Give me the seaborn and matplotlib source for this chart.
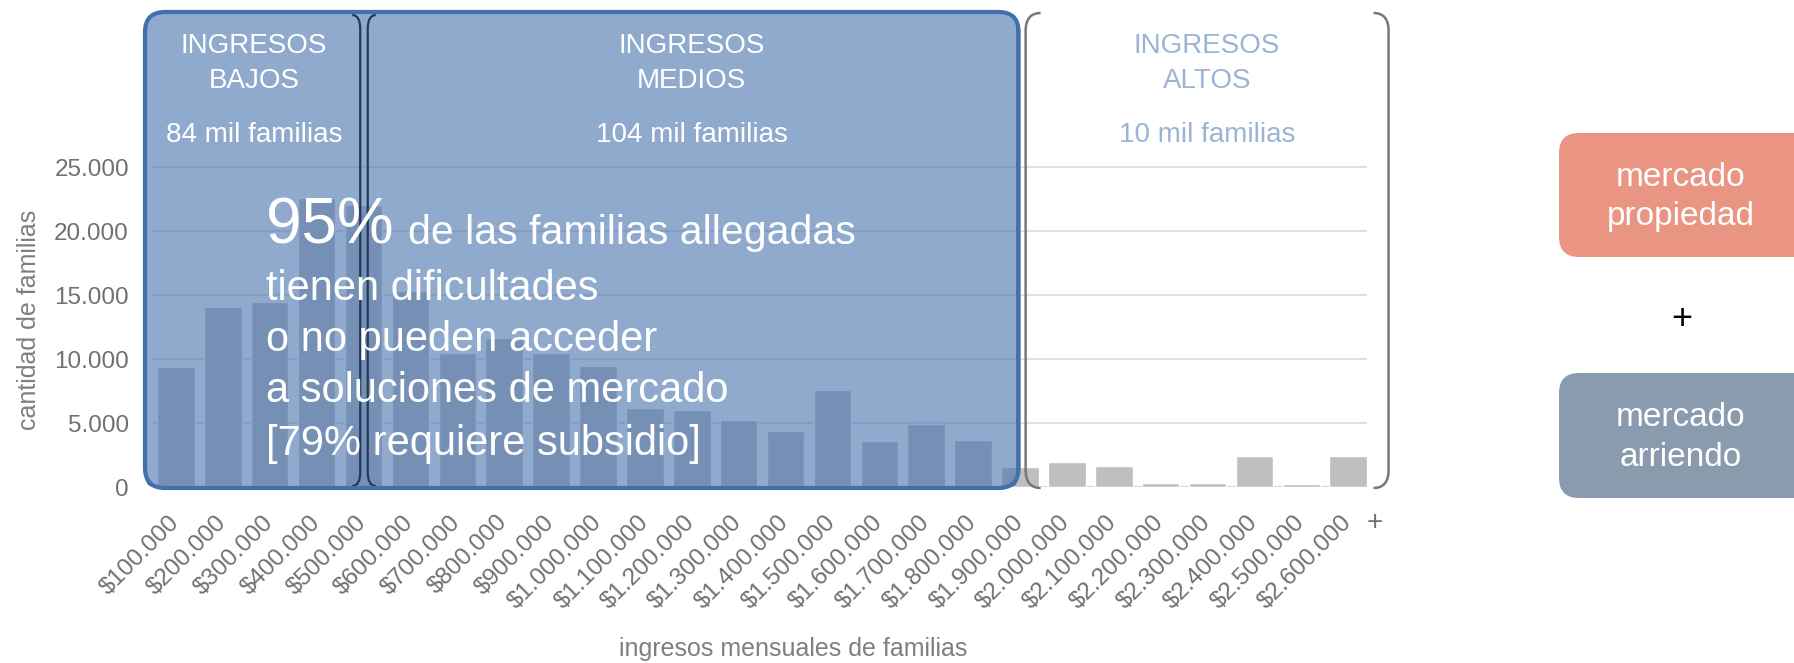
import matplotlib

matplotlib.use('Agg')
import matplotlib.pyplot as plt
import seaborn as sns
from matplotlib.patches import FancyBboxPatch, PathPatch
from matplotlib.path import Path

# datos
ingresos = ['$100.000', '$200.000', '$300.000', '$400.000', '$500.000', '$600.000',
            '$700.000', '$800.000', '$900.000', '$1.000.000', '$1.100.000', '$1.200.000',
            '$1.300.000', '$1.400.000', '$1.500.000', '$1.600.000', '$1.700.000',
            '$1.800.000', '$1.900.000', '$2.000.000', '$2.100.000', '$2.200.000',
            '$2.300.000', '$2.400.000', '$2.500.000', '$2.600.000']
familias = [9370, 14030, 14420, 22600, 22050, 15330, 10440, 11610, 10440, 9480, 6150,
            6010, 5260, 4380, 7580, 3600, 4900, 3670, 1540, 1970, 1630, 280, 350, 2430,
            230, 2400]
y_ticks = [0, 5000, 10000, 15000, 20000, 25000]
y_tick_labels = ['0', '5.000', '10.000', '15.000', '20.000', '25.000']

grupos = ['INGRESOS\nBAJOS', 'INGRESOS\nMEDIOS', 'INGRESOS\nALTOS']
grupo_familias = ['84 mil familias', '104 mil familias', '10 mil familias']
destacado = '95%'
mensaje = ['de las familias allegadas', 'tienen dificultades', 'o no pueden acceder',
           'a soluciones de mercado', '[79% requiere subsidio]']
mercados = ['mercado\npropiedad', 'mercado\narriendo']

W, H = 1794, 663
FONT = ['Liberation Sans', 'DejaVu Sans']
GRIS = '#707070'

sns.set_theme(style='white')
plt.rcParams['font.family'] = FONT

fig = plt.figure(figsize=(W / 100, H / 100), dpi=100)
ax = fig.add_axes([152.5 / W, 176 / H, 1214.5 / W, 473.6 / H])

sns.barplot(x=ingresos, y=familias, color='#bfbfbf', saturation=1, width=0.8,
            ax=ax, zorder=2)

ax.set_xlim(-0.5, 25.4)
ax.set_ylim(0, 37000)
ax.set_yticks(y_ticks, labels=y_tick_labels)
ax.set_xticks(range(len(ingresos)), labels=ingresos, rotation=45, ha='right',
              va='center', rotation_mode='anchor')
ax.yaxis.grid(True, color='#d9d9d9', lw=1.2)
ax.set_axisbelow(True)
ax.axhline(0, color='#d9d9d9', lw=1.6, zorder=1)
sns.despine(ax=ax, left=True, bottom=True)
ax.tick_params(axis='y', length=0, pad=17, labelsize=17.5, labelcolor=GRIS)
ax.tick_params(axis='x', length=0, pad=23, labelsize=17.5, labelcolor=GRIS)
ax.set_xlabel('')
ax.set_ylabel('')

# unidades de datos por pixel
xu = 25.9 / 1214.5
yu = 37000 / 473.6


def py(p):
    # pixel vertical (desde arriba) -> valor en eje y
    return (487 - p) * yu


def fig_xy(x, y):
    return x / W, 1 - y / H


# caja azul (ingresos bajos + medios)
caja = dict(boxstyle=f'round,pad=0,rounding_size={20 * xu}', mutation_aspect=yu / xu,
            clip_on=False)
x0, x1, y0, y1 = -0.66, 17.97, py(488), py(12)
ax.add_patch(FancyBboxPatch((x0, y0), x1 - x0, y1 - y0, facecolor='#4472ad',
                            alpha=0.6, edgecolor='none', zorder=3, **caja))
ax.add_patch(FancyBboxPatch((x0, y0), x1 - x0, y1 - y0, facecolor='none',
                            edgecolor='#4170ac', lw=3, zorder=4.5, **caja))


def corchete(x, ya, yb, lado, hw, hh, color, lw):
    verts = [(x + lado * hw * xu, yb), (x, yb), (x, yb - hh * yu),
             (x, ya + hh * yu), (x, ya), (x + lado * hw * xu, ya)]
    codes = [Path.MOVETO, Path.CURVE3, Path.CURVE3, Path.LINETO, Path.CURVE3, Path.CURVE3]
    ax.add_patch(PathPatch(Path(verts, codes), facecolor='none', edgecolor=color,
                           lw=lw, clip_on=False, zorder=4))


tramos = [(-0.6, 3.93), (4.09, 17.9), (18.12, 25.86)]
# los lados exteriores quedan bajo el borde de la caja azul
corchete(x0 + 0.02, py(486), py(15), 1, 8, 14, '#1f3a5c', 1.6)
corchete(tramos[0][1], py(486), py(15), -1, 8, 14, '#1f3a5c', 1.6)
corchete(tramos[1][0], py(486), py(15), 1, 8, 14, '#1f3a5c', 1.6)
corchete(x1 - 0.02, py(486), py(15), -1, 8, 14, '#1f3a5c', 1.6)
a, b = tramos[2]
corchete(a, py(488), py(13), 1, 15, 18, '#777777', 1.8)
corchete(b, py(488), py(13), -1, 15, 18, '#777777', 1.8)

colores_grupo = ['white', 'white', '#9bb4d4']
for (a, b), nombre, fam, c in zip(tramos, grupos, grupo_familias, colores_grupo):
    xc = (a + b) / 2
    l1, l2 = nombre.split('\n')
    ax.text(xc, py(53), l1, ha='center', va='baseline', fontsize=20, color=c, zorder=5)
    ax.text(xc, py(88), l2, ha='center', va='baseline', fontsize=20, color=c, zorder=5)
    ax.text(xc, py(142), fam, ha='center', va='baseline', fontsize=20, color=c, zorder=5)

# mensaje principal
t95 = fig.text(*fig_xy(266, 244), destacado, fontsize=46, color='white',
               va='baseline', ha='left', zorder=6)
fig.canvas.draw()
bb = t95.get_window_extent()
fig.text(bb.x1 / W + 14 / W, 1 - 244 / H, mensaje[0], fontsize=29.5, color='white',
         va='baseline', ha='left', zorder=6)
for linea, base in zip(mensaje[1:], [300, 351, 402, 455]):
    fig.text(*fig_xy(266, base), linea, fontsize=30, color='white', va='baseline',
             ha='left', zorder=6)

# etiquetas de ejes
fig.text(*fig_xy(29, 320), 'cantidad de familias', rotation=90, ha='center',
         va='center', fontsize=18, color='#7f7f7f')
fig.text(*fig_xy(793, 649), 'ingresos mensuales de familias', ha='center',
         va='center', fontsize=18, color='#7f7f7f')
fig.text(*fig_xy(1375, 523), '+', ha='center', va='center', fontsize=20, color=GRIS)

# cajas de mercado a la derecha
aspect = W / H
for texto, color, top, bottom in zip(mercados, ['#ea9584', '#8a9bae'], [133, 373],
                                     [257, 498]):
    fx, fy = fig_xy(1559, bottom)
    caja_m = FancyBboxPatch((fx, fy), 260 / W, (bottom - top) / H,
                            boxstyle=f'round,pad=0,rounding_size={20 / W}',
                            mutation_aspect=aspect, transform=fig.transFigure,
                            facecolor=color, edgecolor='none')
    fig.add_artist(caja_m)
    fig.text(*fig_xy(1681, (top + bottom) / 2 + 2), texto, ha='center', va='center',
             fontsize=24, color='white', linespacing=1.35)
fig.text(*fig_xy(1682, 319), '+', ha='center', va='center', fontsize=26, color='black')

fig.savefig('out.png', dpi=100)
